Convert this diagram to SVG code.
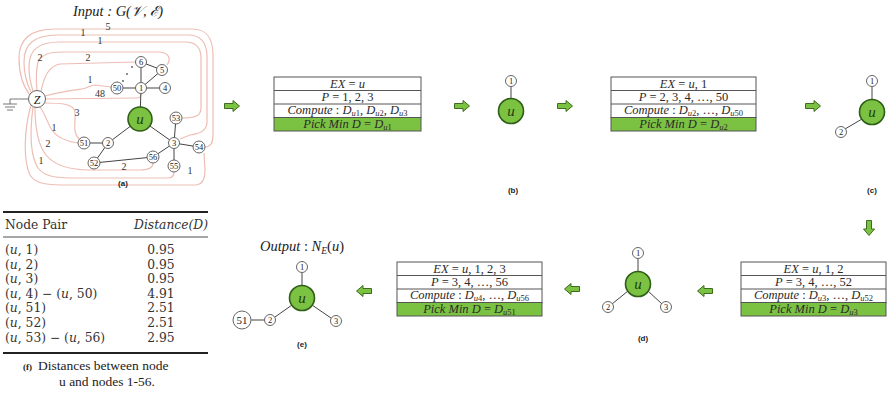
<svg xmlns="http://www.w3.org/2000/svg" width="890" height="399" viewBox="0 0 890 399">
<style>
 text{font-family:"Liberation Serif","Times New Roman",serif;fill:#222}
 .i{font-style:italic}
 .bt{font-size:12.5px;text-anchor:middle;fill:#2a2a2a}
 .sub{font-size:8.5px}
 .cap{font-family:"Liberation Sans",Arial,sans-serif;font-weight:bold;font-size:8px;text-anchor:middle}
 .box{fill:#fff;stroke:#555;stroke-width:1}
 .grn{fill:#7cc242;stroke:#555;stroke-width:1}
 .ug{fill:#7cc242;stroke:#2e5e17;stroke-width:1.6}
 .sn{fill:#fff;stroke:#666;stroke-width:1}
 .e{stroke:#444;stroke-width:1;fill:none}
 .sep{stroke:#555;stroke-width:1;fill:none}
 .rc{stroke:#eebdb4;stroke-width:1.2;fill:none}
 .nl{font-size:8.5px;text-anchor:middle}
 .wl{font-size:10px;text-anchor:middle;fill:#333}
 .ul{font-size:15px;font-style:italic;text-anchor:middle;fill:#1f3d0f}
 .tb{font-family:"DejaVu Serif",serif;font-size:12.3px;fill:#333}
 .arr{fill:#7cc242;stroke:#3d6b1f;stroke-width:1}
 .rule{stroke:#222}
</style>
<defs>
 <path id="ar" d="M-7.5,-2.5 L1,-2.5 L1,-5.5 L7.5,0 L1,5.5 L1,2.5 L-7.5,2.5 Z"/>
</defs>

<!-- connectors: arrows between stages -->
<g id="connectors">
 <use href="#ar" class="arr" transform="translate(232,106)"/>
 <use href="#ar" class="arr" transform="translate(462,106)"/>
 <use href="#ar" class="arr" transform="translate(565,106)"/>
 <use href="#ar" class="arr" transform="translate(813,106)"/>
 <use href="#ar" class="arr" transform="translate(869,228) rotate(90)"/>
 <use href="#ar" class="arr" transform="translate(705,291) rotate(180)"/>
 <use href="#ar" class="arr" transform="translate(572,289) rotate(180)"/>
 <use href="#ar" class="arr" transform="translate(364,291) rotate(180)"/>
</g>

<!-- panel (a) -->
<g id="panel-a">
 <text x="118" y="16" font-size="14.5" text-anchor="middle" class="i">Input : G(𝒱, ℰ)</text>
 <g id="a-curves">
  <path class="rc" d="M30,95 C22,85 19,72 19,58 C19,40 30,29 55,29 L192,29 C207,29 213,38 213,55 L213,135 C213,145 209,147 205,147"/>
  <path class="rc" d="M31,92 C26,82 24,72 24,62 C24,44 34,35 58,35 L188,35 C201,35 207,43 207,57 L207,122 C207,131 200,134 190,135 L180,139"/>
  <path class="rc" d="M33,91 C30,82 29,74 29,67 C29,50 38,42 60,42 L185,42 C196,42 201,48 201,58 L201,108 C201,116 195,118 182,118"/>
  <path class="rc" d="M37,91 C36,80 36,70 38,62 C42,54 50,52 62,52 L158,52 C168,52 172,58 167,65"/>
  <path class="rc" d="M41,92 C43,80 48,66 60,64 L135,62"/>
  <path class="rc" d="M45,96 C60,92 75,90 82,89 C88,88 90,85 95,85 L111,87"/>
  <path class="rc" d="M45,99 L136,98 C140,98 141,97 141,94"/>
  <path class="rc" d="M44,103 C62,103 74,104 75,112 C76,122 72,132 79,139"/>
  <path class="rc" d="M40,107 C46,115 48,125 52,130 C56,136 64,141 78,143"/>
  <path class="rc" d="M35,107 C35,125 38,145 46,155 C55,166 70,170 90,170 L140,170 C150,170 153,167 153,163"/>
  <path class="rc" d="M33,107 C30,130 30,155 38,168 C45,178 60,178 80,178 L168,178 C172,178 174,176 174,172"/>
  <path class="rc" d="M31,105 C24,130 23,160 30,175 C36,185 50,185 70,185 L195,185 C203,185 205,178 205,170 L204,153"/>
 </g>
 <g id="a-weights">
  <text class="wl" x="108" y="30">5</text>
  <text class="wl" x="83" y="36">1</text>
  <text class="wl" x="100" y="44">1</text>
  <text class="wl" x="40" y="61">2</text>
  <text class="wl" x="88" y="61">2</text>
  <text class="wl" x="90" y="83">1</text>
  <text class="wl" x="100" y="97">48</text>
  <text class="wl" x="77" y="116">3</text>
  <text class="wl" x="54" y="131">1</text>
  <text class="wl" x="48" y="147">2</text>
  <text class="wl" x="41" y="164">1</text>
  <text class="wl" x="124" y="170">2</text>
  <text class="wl" x="190" y="174">1</text>
 </g>
 <g id="a-ground" stroke="#555" stroke-width="0.8" fill="none">
  <path d="M29,99 L10,99 L10,104 M3,104 L17,104 M5,107 L15,107 M7,110 L13,110"/>
 </g>
 <g id="a-edges" class="e">
  <path d="M140,119 L141,88 M140,119 L108,143 M140,119 L174,143 M117,88 L165,88 M141,62 L141,88 L162,70 L141,62 M108,143 L84,143 M108,143 L94,163 L153,157 L174,143 L176,118 M174,143 L199,147 M174,143 L174,166"/>
 </g>
 <g fill="#555"><circle cx="123" cy="81" r="0.9"/><circle cx="127" cy="74" r="0.9"/><circle cx="132" cy="67" r="0.9"/></g>
 <g id="node-Z"><circle class="sn" cx="37" cy="99" r="8.5"/><text x="37" y="103.5" font-size="12" text-anchor="middle" class="i">Z</text></g>
 <g id="node-a-u"><circle class="ug" cx="140" cy="119" r="12"/><text class="ul" x="140" y="124">u</text></g>
 <g id="node-a-1"><circle class="sn" cx="141" cy="88" r="5.5"/><text class="nl" x="141" y="91">1</text></g>
 <g id="node-a-50"><circle class="sn" cx="117" cy="88" r="6"/><text class="nl" x="117" y="91">50</text></g>
 <g id="node-a-4"><circle class="sn" cx="165" cy="88" r="5.5"/><text class="nl" x="165" y="91">4</text></g>
 <g id="node-a-6"><circle class="sn" cx="141" cy="62" r="5.5"/><text class="nl" x="141" y="65">6</text></g>
 <g id="node-a-5"><circle class="sn" cx="162" cy="70" r="5.5"/><text class="nl" x="162" y="73">5</text></g>
 <g id="node-a-2"><circle class="sn" cx="108" cy="143" r="5.5"/><text class="nl" x="108" y="146">2</text></g>
 <g id="node-a-51"><circle class="sn" cx="84" cy="143" r="6"/><text class="nl" x="84" y="146">51</text></g>
 <g id="node-a-52"><circle class="sn" cx="94" cy="163" r="6"/><text class="nl" x="94" y="166">52</text></g>
 <g id="node-a-56"><circle class="sn" cx="153" cy="157" r="6"/><text class="nl" x="153" y="160">56</text></g>
 <g id="node-a-3"><circle class="sn" cx="174" cy="143" r="5.5"/><text class="nl" x="174" y="146">3</text></g>
 <g id="node-a-53"><circle class="sn" cx="176" cy="118" r="6"/><text class="nl" x="176" y="121">53</text></g>
 <g id="node-a-54"><circle class="sn" cx="199" cy="147" r="6"/><text class="nl" x="199" y="150">54</text></g>
 <g id="node-a-55"><circle class="sn" cx="174" cy="166" r="6"/><text class="nl" x="174" y="169">55</text></g>
 <text class="cap" x="123" y="186">(a)</text>
</g>

<!-- box 1 -->
<g id="box-1">
 <rect class="box" x="274" y="77" width="147" height="40.5"/>
 <rect class="grn" x="274" y="117.5" width="147" height="13.5"/>
 <path class="sep" d="M274,90.5 H421 M274,104 H421"/>
 <text class="bt" x="347.5" y="87.5"><tspan class="i">EX</tspan> = <tspan class="i">u</tspan></text>
 <text class="bt" x="347.5" y="101"><tspan class="i">P</tspan> = 1, 2, 3</text>
 <text class="bt" x="347.5" y="114"><tspan class="i">Compute</tspan> : <tspan class="i">D</tspan><tspan class="sub" baseline-shift="-2"><tspan class="i">u</tspan>1</tspan>, <tspan class="i">D</tspan><tspan class="sub" baseline-shift="-2"><tspan class="i">u</tspan>2</tspan>, <tspan class="i">D</tspan><tspan class="sub" baseline-shift="-2"><tspan class="i">u</tspan>3</tspan></text>
 <text class="bt" x="347.5" y="127.5"><tspan class="i">Pick Min D</tspan> = <tspan class="i">D</tspan><tspan class="sub" baseline-shift="-2"><tspan class="i">u</tspan>1</tspan></text>
</g>

<!-- box 2 -->
<g id="box-2">
 <rect class="box" x="611" y="77" width="145" height="40.5"/>
 <rect class="grn" x="611" y="117.5" width="145" height="13.5"/>
 <path class="sep" d="M611,90.5 H756 M611,104 H756"/>
 <text class="bt" x="683.5" y="87.5"><tspan class="i">EX</tspan> = <tspan class="i">u</tspan>, 1</text>
 <text class="bt" x="683.5" y="101"><tspan class="i">P</tspan> = 2, 3, 4, …, 50</text>
 <text class="bt" x="683.5" y="114"><tspan class="i">Compute</tspan> : <tspan class="i">D</tspan><tspan class="sub" baseline-shift="-2"><tspan class="i">u</tspan>2</tspan>, …, <tspan class="i">D</tspan><tspan class="sub" baseline-shift="-2"><tspan class="i">u</tspan>50</tspan></text>
 <text class="bt" x="683.5" y="127.5"><tspan class="i">Pick Min D</tspan> = <tspan class="i">D</tspan><tspan class="sub" baseline-shift="-2"><tspan class="i">u</tspan>2</tspan></text>
</g>

<!-- box 3 -->
<g id="box-3">
 <rect class="box" x="741" y="262" width="145" height="40.5"/>
 <rect class="grn" x="741" y="302.5" width="145" height="13.5"/>
 <path class="sep" d="M741,275.5 H886 M741,289 H886"/>
 <text class="bt" x="813.5" y="272.5"><tspan class="i">EX</tspan> = <tspan class="i">u</tspan>, 1, 2</text>
 <text class="bt" x="813.5" y="286"><tspan class="i">P</tspan> = 3, 4, …, 52</text>
 <text class="bt" x="813.5" y="299"><tspan class="i">Compute</tspan> : <tspan class="i">D</tspan><tspan class="sub" baseline-shift="-2"><tspan class="i">u</tspan>3</tspan>, …, <tspan class="i">D</tspan><tspan class="sub" baseline-shift="-2"><tspan class="i">u</tspan>52</tspan></text>
 <text class="bt" x="813.5" y="312.5"><tspan class="i">Pick Min D</tspan> = <tspan class="i">D</tspan><tspan class="sub" baseline-shift="-2"><tspan class="i">u</tspan>3</tspan></text>
</g>

<!-- box 4 -->
<g id="box-4">
 <rect class="box" x="397" y="262" width="145" height="40.5"/>
 <rect class="grn" x="397" y="302.5" width="145" height="13.5"/>
 <path class="sep" d="M397,275.5 H542 M397,289 H542"/>
 <text class="bt" x="469.5" y="272.5"><tspan class="i">EX</tspan> = <tspan class="i">u</tspan>, 1, 2, 3</text>
 <text class="bt" x="469.5" y="286"><tspan class="i">P</tspan> = 3, 4, …, 56</text>
 <text class="bt" x="469.5" y="299"><tspan class="i">Compute</tspan> : <tspan class="i">D</tspan><tspan class="sub" baseline-shift="-2"><tspan class="i">u</tspan>4</tspan>, …, <tspan class="i">D</tspan><tspan class="sub" baseline-shift="-2"><tspan class="i">u</tspan>56</tspan></text>
 <text class="bt" x="469.5" y="312.5"><tspan class="i">Pick Min D</tspan> = <tspan class="i">D</tspan><tspan class="sub" baseline-shift="-2"><tspan class="i">u</tspan>51</tspan></text>
</g>

<!-- panel (b) -->
<g id="panel-b">
 <path class="e" d="M511,86.5 L511,98.5"/>
 <g id="node-b-1"><circle class="sn" cx="511" cy="81" r="5.5"/><text class="nl" x="511" y="84">1</text></g>
 <g id="node-b-u"><circle class="ug" cx="511" cy="111" r="12.5"/><text class="ul" x="511" y="116">u</text></g>
 <text class="cap" x="513" y="193">(b)</text>
</g>

<!-- panel (c) -->
<g id="panel-c">
 <path class="e" d="M872,86.5 L872,100 M862,119 L845,129"/>
 <g id="node-c-1"><circle class="sn" cx="872" cy="81" r="5.5"/><text class="nl" x="872" y="84">1</text></g>
 <g id="node-c-2"><circle class="sn" cx="841" cy="132" r="5.5"/><text class="nl" x="841" y="135">2</text></g>
 <g id="node-c-u"><circle class="ug" cx="872" cy="112" r="12.5"/><text class="ul" x="872" y="117">u</text></g>
 <text class="cap" x="872" y="193">(c)</text>
</g>

<!-- panel (d) -->
<g id="panel-d">
 <path class="e" d="M638,258.5 L638,272 M628,291 L612,304 M648,291 L662,304"/>
 <g id="node-d-1"><circle class="sn" cx="638" cy="253" r="5.5"/><text class="nl" x="638" y="256">1</text></g>
 <g id="node-d-2"><circle class="sn" cx="608" cy="307" r="5.5"/><text class="nl" x="608" y="310">2</text></g>
 <g id="node-d-3"><circle class="sn" cx="666" cy="307" r="5.5"/><text class="nl" x="666" y="310">3</text></g>
 <g id="node-d-u"><circle class="ug" cx="638" cy="284" r="12.5"/><text class="ul" x="638" y="289">u</text></g>
 <text class="cap" x="643" y="341">(d)</text>
</g>

<!-- panel (e) -->
<g id="panel-e">
 <text x="302" y="251" font-size="14.5" text-anchor="middle"><tspan class="i">Output</tspan> : <tspan class="i">N</tspan><tspan font-size="9.5" baseline-shift="-3" class="i">E</tspan>(<tspan class="i">u</tspan>)</text>
 <path class="e" d="M302,272.5 L302,286 M292,305 L275,317 M312,305 L331,318 M251,320 L264.5,320"/>
 <g id="node-e-1"><circle class="sn" cx="302" cy="267" r="5.5"/><text class="nl" x="302" y="270">1</text></g>
 <g id="node-e-2"><circle class="sn" cx="270" cy="320" r="5.5"/><text class="nl" x="270" y="323">2</text></g>
 <g id="node-e-3"><circle class="sn" cx="336" cy="321" r="5.5"/><text class="nl" x="336" y="324">3</text></g>
 <g id="node-e-51"><circle class="sn" cx="242" cy="320" r="9"/><text x="242" y="324" font-size="11" text-anchor="middle">51</text></g>
 <g id="node-e-u"><circle class="ug" cx="302" cy="298" r="12.5"/><text class="ul" x="302" y="303">u</text></g>
 <text class="cap" x="302" y="347">(e)</text>
</g>

<!-- table (f) -->
<g id="table-f">
 <line class="rule" x1="3" y1="212" x2="208" y2="212" stroke-width="1.8"/>
 <text class="tb" x="5" y="229">Node Pair</text>
 <text class="tb i" x="208" y="229" text-anchor="end">Distance(D)</text>
 <line class="rule" x1="3" y1="237" x2="208" y2="237" stroke-width="0.8"/>
 <text class="tb" x="5" y="254">(<tspan class="i">u</tspan>, 1)</text>
 <text class="tb" x="5" y="268.6">(<tspan class="i">u</tspan>, 2)</text>
 <text class="tb" x="5" y="283.2">(<tspan class="i">u</tspan>, 3)</text>
 <text class="tb" x="5" y="297.8">(<tspan class="i">u</tspan>, 4) − (<tspan class="i">u</tspan>, 50)</text>
 <text class="tb" x="5" y="312.4">(<tspan class="i">u</tspan>, 51)</text>
 <text class="tb" x="5" y="327">(<tspan class="i">u</tspan>, 52)</text>
 <text class="tb" x="5" y="341.6">(<tspan class="i">u</tspan>, 53) − (<tspan class="i">u</tspan>, 56)</text>
 <g text-anchor="middle">
  <text class="tb" x="161" y="254">0.95</text>
  <text class="tb" x="161" y="268.6">0.95</text>
  <text class="tb" x="161" y="283.2">0.95</text>
  <text class="tb" x="161" y="297.8">4.91</text>
  <text class="tb" x="161" y="312.4">2.51</text>
  <text class="tb" x="161" y="327">2.51</text>
  <text class="tb" x="161" y="341.6">2.95</text>
 </g>
 <line class="rule" x1="3" y1="353" x2="208" y2="353" stroke-width="1.8"/>
 <text x="23" y="370" font-family="Liberation Sans, Arial, sans-serif" font-weight="bold" font-size="9">(f)</text>
 <text x="38" y="370" font-size="13.5">Distances between node</text>
 <text x="107" y="386" font-size="13.5" text-anchor="middle">u and nodes 1-56.</text>
</g>
</svg>
